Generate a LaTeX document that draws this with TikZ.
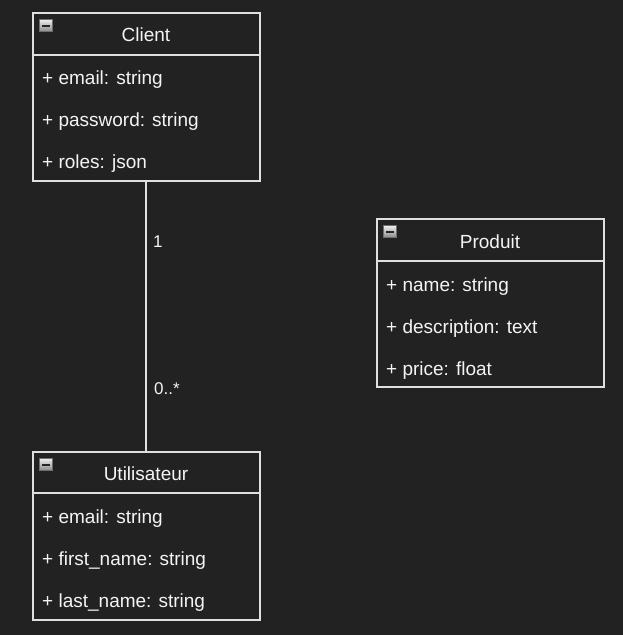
\documentclass[tikz,border=0pt]{standalone}
\usepackage{fontspec}
\setmainfont{Liberation Sans}
\definecolor{bg}{HTML}{222222}
\definecolor{ln}{HTML}{E0E0E0}
\definecolor{tx}{HTML}{F4F4F4}
\definecolor{icoA}{HTML}{EEEEEE}
\definecolor{icoB}{HTML}{8A8A8A}
\begin{document}
\begin{tikzpicture}[x=1pt,y=-1pt,
  classbox/.style={draw=ln,line width=1.6pt,rectangle,minimum width=227pt,minimum height=168pt,anchor=north west,inner sep=0pt},
  title/.style={text=tx,font=\fontsize{19}{22}\selectfont,anchor=center,inner sep=0pt},
  attr/.style={text=tx,font=\fontsize{19}{22}\selectfont,anchor=base west,inner sep=0pt},
  mult/.style={text=tx,font=\fontsize{17}{20}\selectfont,anchor=base west,inner sep=0pt},
  conn/.style={draw=ln,line width=1.6pt},
  divider/.style={draw=ln,line width=1.6pt}]
\fill[bg] (0,0) rectangle (623,635);
\useasboundingbox (0,0) rectangle (623,635);
\newcommand{\minusicon}[2]{%
  \shade[top color=icoA,bottom color=icoB,draw=icoB!80!black,line width=0.8pt] (#1,#2) rectangle ++(13,12);
  \fill[black!85] (#1+2.5,#2+5.2) rectangle ++(8,2);}
% Client
\node[classbox] (client) at (32,12) {};
\draw[divider] (32,55) -- (259,55);
\minusicon{39.5}{19.5}
\node[title] (clientT) at (146,35) {Client};
\node[attr] (c1) at (42,84) {+ email: string};
\node[attr] (c2) at (42,126) {+ password: string};
\node[attr] (c3) at (42,168) {+ roles: json};
% Produit
\node[classbox] (produit) at (376,218) {};
\draw[divider] (376,261) -- (604,261);
\minusicon{383.5}{225.5}
\node[title] (produitT) at (490,242) {Produit};
\node[attr] (p1) at (386,291) {+ name: string};
\node[attr] (p2) at (386,333) {+ description: text};
\node[attr] (p3) at (386,375) {+ price: float};
% Utilisateur
\node[classbox] (util) at (32,451) {};
\draw[divider] (32,493) -- (259,493);
\minusicon{39.5}{458.5}
\node[title] (utilT) at (146,474) {Utilisateur};
\node[attr] (u1) at (42,523) {+ email: string};
\node[attr] (u2) at (42,565) {+ first\_name: string};
\node[attr] (u3) at (42,607) {+ last\_name: string};
% association
\draw[conn] ([xshift=-0.5pt]client.south) -- ([xshift=-0.5pt]util.north);
\node[mult] (m1) at (153,247) {1};
\node[mult] (m2) at (154,394) {0..*};
\end{tikzpicture}
\end{document}
